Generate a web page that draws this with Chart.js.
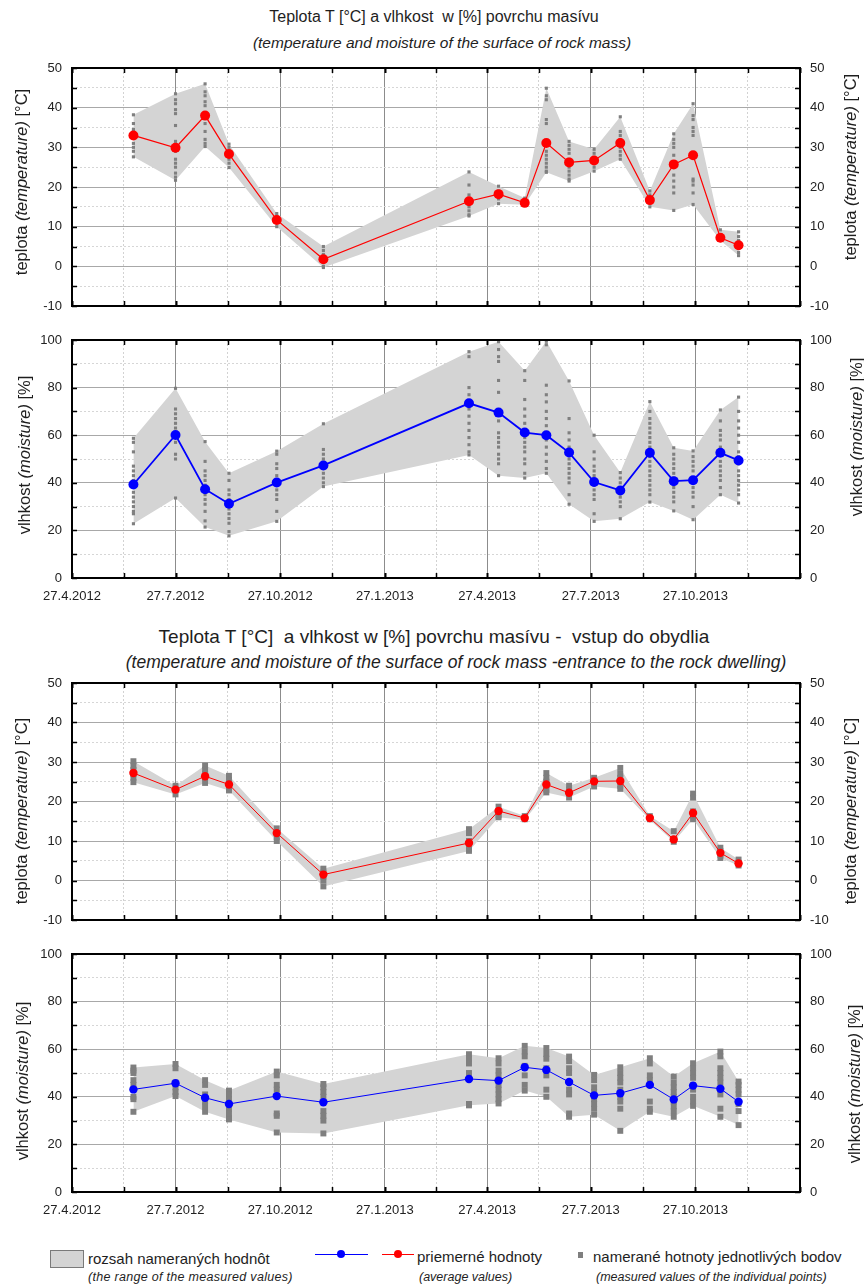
<!DOCTYPE html>
<html>
<head>
<meta charset="utf-8">
<script src="https://cdn.jsdelivr.net/npm/chart.js@4.4.0/dist/chart.umd.min.js"></script>
<style>
body { margin: 0; background: #fff; }
#page { position: relative; width: 864px; height: 1284px; font-family: 'Liberation Sans', Arial, sans-serif; color: #1e1e1e; overflow: hidden; }
#page canvas { position: absolute; left: 0; }
.t { position: absolute; white-space: nowrap; transform: translate(-50%, -50%); }
.yt { position: absolute; white-space: nowrap; font-size: 16.5px; transform: translate(-50%, -50%) rotate(-90deg); }
.lg { position: absolute; white-space: nowrap; transform: translateY(-50%); }
.sw { position: absolute; }
</style>
</head>
<body>
<div id="page">
  <div class="t" style="left:434px; top:17px; font-size:16px;">Teplota T [°C] a vlhkost&nbsp; w [%] povrchu masívu</div>
  <div class="t" style="left:442px; top:43px; font-size:15.5px; font-style:italic;">(temperature and moisture of the surface of rock mass)</div>
  <canvas id="tempA" width="864" height="274" style="top:50px"></canvas>
  <canvas id="moistA" width="864" height="286" style="top:322px"></canvas>

  <div class="t" style="left:434px; top:637px; font-size:19px;">Teplota T [°C]&nbsp; a vlhkost w [%] povrchu masívu -&nbsp; vstup do obydlia</div>
  <div class="t" style="left:456px; top:662px; font-size:17.5px; font-style:italic;">(temperature and moisture of the surface of rock mass -entrance to the rock dwelling)</div>
  <canvas id="tempB" width="864" height="273" style="top:665px"></canvas>
  <canvas id="moistB" width="864" height="286" style="top:936px"></canvas>

  <div class="yt" style="left:21px; top:182px;">teplota <i>(temperature)</i> [°C]</div>
  <div class="yt" style="left:850px; top:167px;">teplota <i>(temperature)</i> [°C]</div>
  <div class="yt" style="left:24px; top:455px;">vlhkost <i>(moisture)</i> [%]</div>
  <div class="yt" style="left:856px; top:437px;">vlhkost <i>(moisture)</i> [%]</div>
  <div class="yt" style="left:21px; top:811px;">teplota <i>(temperature)</i> [°C]</div>
  <div class="yt" style="left:850px; top:811px;">teplota <i>(temperature)</i> [°C]</div>
  <div class="yt" style="left:22px; top:1081px;">vlhkost <i>(moisture)</i> [%]</div>
  <div class="yt" style="left:854px; top:1084px;">vlhkost <i>(moisture)</i> [%]</div>

  <div class="sw" style="left:50px; top:1250px; width:32px; height:16px; background:#d4d4d4; border:1px solid #7a7a7a;"></div>
  <div class="lg" style="left:88px; top:1258px; font-size:15px;">rozsah nameraných hodnôt</div>
  <div class="lg" style="left:88px; top:1277px; font-size:12.5px; font-style:italic; letter-spacing:0.3px;">(the range of the measured values)</div>

  <div class="sw" style="left:315px; top:1254px; width:53px; height:1px; background:#0000ff;"></div>
  <div class="sw" style="left:337px; top:1250px; width:8px; height:8px; border-radius:50%; background:#0000ff;"></div>
  <div class="sw" style="left:382px; top:1254px; width:32px; height:1px; background:#ff0000;"></div>
  <div class="sw" style="left:394px; top:1250px; width:8px; height:8px; border-radius:50%; background:#ff0000;"></div>
  <div class="lg" style="left:417px; top:1256px; font-size:15px;">priemerné hodnoty</div>
  <div class="lg" style="left:419px; top:1277px; font-size:12.5px; font-style:italic;">(average values)</div>

  <div class="sw" style="left:578px; top:1252px; width:5px; height:6px; background:#7f7f7f;"></div>
  <div class="lg" style="left:593px; top:1256px; font-size:15px;">namerané hotnoty jednotlivých bodov</div>
  <div class="lg" style="left:596px; top:1277px; font-size:12.5px; font-style:italic;">(measured values of the individual points)</div>
</div>

<script>
const sampleDates = ['20.6.2012', '27.7.2012', '22.8.2012', '12.9.2012', '24.10.2012', '4.12.2012',
    '11.4.2013', '7.5.2013', '30.5.2013', '18.6.2013', '8.7.2013', '30.7.2013',
    '22.8.2013', '17.9.2013', '8.10.2013', '25.10.2013', '18.11.2013', '4.12.2013'];
const quarterDates = ['27.4.2012', '27.7.2012', '27.10.2012', '27.1.2013', '27.4.2013', '27.7.2013', '27.10.2013', '27.1.2014'];

// povrch masivu
const tempAvgA = [33, 29.9, 38, 28.3, 11.7, 1.8, 16.4, 18.2, 16, 31.1, 26.2, 26.7, 31.1, 16.7, 25.7, 28, 7.2, 5.3];
const tempMaxA = [38.2, 43.5, 46, 30.8, 13.3, 5, 23.8, 20.2, 17.2, 44.9, 31.5, 29.5, 37.7, 19, 33.4, 41, 9.2, 8.7];
const tempMinA = [27.6, 21.7, 30.2, 24.9, 10, -0.3, 12.7, 15.8, 15.5, 23.7, 21.5, 24, 27, 15, 14.1, 15.6, 6.5, 2.7];
const tempPtsA = [
    [38.2, 36, 34.5, 33, 31, 30, 29, 27.6],
    [43.5, 42, 41, 39.5, 38.5, 35.5, 31.5, 29, 27, 26, 25, 23.5, 22.5, 21.7],
    [46, 44, 43, 41.5, 40.5, 38, 36, 34, 32, 31, 30.2],
    [30.8, 30, 29, 28, 27, 26, 24.9],
    [13.3, 12.5, 12, 11, 10],
    [5, 4, 3, 2, 1, 0, -0.3],
    [23.8, 20.5, 18, 17, 15, 14, 13, 12.7],
    [20.2, 19, 18, 17, 15.8],
    [17.2, 16.5, 16, 15.5],
    [44.9, 43, 42, 37, 36, 31, 29, 28, 27, 26, 25, 24, 23.7],
    [31.5, 30.5, 29.5, 28.5, 27, 26, 25, 24, 23, 22, 21.5],
    [29.5, 28.5, 27.5, 26, 25, 24],
    [37.7, 34, 33, 32, 31, 30, 29, 28, 27],
    [19, 18, 17, 16, 15],
    [33.4, 32, 31, 30, 28, 26, 25, 23, 21.5, 20, 18.5, 14.1],
    [41, 38, 37, 35, 34, 33, 22, 21.5, 20.5, 18.5, 15.6],
    [9.2, 8, 7, 6.5],
    [8.7, 7.5, 6.5, 5.5, 4.5, 3.5, 2.7]
];
const moistAvgA = [39.3, 60.1, 37.3, 31.2, 40.1, 47.3, 73.4, 69.5, 61.1, 60, 52.7, 40.3, 36.8, 52.6, 40.7, 41.1, 52.6, 49.4];
const moistMaxA = [58.7, 79.7, 57.3, 44, 53.3, 64.8, 95.1, 99.3, 87.1, 99.5, 82.8, 60, 44.3, 74.1, 54.7, 53.4, 70.6, 76];
const moistMinA = [22.8, 33.6, 21.4, 17.7, 23.8, 38.4, 51.7, 43, 42, 44, 31, 23.8, 24.9, 31.9, 28.2, 24.5, 35, 31.5];
const moistPtsA = [
    [58.7, 57, 53, 47, 45, 43, 41, 39, 36, 34, 32, 30, 28, 27, 22.8],
    [79.7, 71, 69, 67, 65, 63, 61, 59, 57, 52, 50, 33.6],
    [57.3, 49, 45, 43, 41, 39, 37, 35, 33, 31, 28, 24, 21.4],
    [44, 41, 37, 35, 33, 31, 29, 27, 25, 23, 19.5, 17.7],
    [53.3, 52, 48, 46, 43, 41, 39, 37, 35, 33, 28, 23.8],
    [64.8, 54, 52, 50, 48, 46, 44, 42, 40, 38.4],
    [95.1, 93, 80, 77, 74, 71, 68, 65, 62, 59, 56, 53, 51.7],
    [99.3, 96, 93, 91, 83, 78, 70, 66, 61, 59, 57, 55, 52, 50, 48, 43],
    [87.1, 83, 75, 71, 68, 65, 62, 59, 57, 55, 53, 50, 48, 44, 42],
    [99.5, 98, 81, 77, 74, 70, 67, 64, 61, 58, 55, 52, 49, 46, 44],
    [82.8, 67, 61, 58, 55, 52, 50, 48, 46, 44, 42, 40, 35, 31],
    [60, 53, 50, 47, 45, 43, 41, 39, 37, 35, 33, 27, 23.8],
    [44.3, 42, 40, 38, 36, 34, 32, 30, 24.9],
    [74.1, 70, 67, 65, 63, 61, 59, 57, 55, 53, 51, 49, 47, 45, 43, 41, 39, 37, 35, 31.9],
    [54.7, 52, 50, 48, 46, 44, 42, 40, 38, 36, 34, 32, 28.2],
    [53.4, 51, 49, 47, 45, 42, 40, 38, 36, 34, 30, 24.5],
    [70.6, 66, 62, 60, 58, 55, 52, 49, 47, 45, 43, 41, 38, 35],
    [76, 70, 66, 63, 60, 57, 53, 51, 48, 45, 43, 41, 39, 37, 35, 31.5]
];

// vstup do obydlia
const tempAvgB = [27.2, 23, 26.4, 24.3, 12, 1.5, 9.5, 17.6, 15.8, 24.3, 22.2, 25.1, 25.2, 15.8, 10.4, 17.1, 7, 4.3];
const tempMaxB = [30.2, 24, 29.1, 26.5, 13.2, 3, 13, 18.7, 16.3, 27.2, 24, 26, 28.5, 16.3, 12.5, 22, 8.3, 5.3];
const tempMinB = [24.9, 21.8, 24.7, 22.8, 10, -1.5, 7.5, 16, 15.3, 22.3, 21, 23.8, 23.2, 15.3, 9.8, 15.5, 5.7, 3.8];
const tempPtsB = [
    [30.2, 29, 28, 27, 26, 24.9],
    [24, 23, 21.8],
    [29.1, 28, 27, 26, 24.7],
    [26.5, 25.5, 24.5, 23.5, 22.8],
    [13.2, 12, 11, 10],
    [3, 2, 1, 0, -1.5],
    [13, 12, 10, 9, 8, 7.5],
    [18.7, 17.5, 16.5, 16],
    [16.3, 15.5],
    [27.2, 26, 25, 24, 23, 22.3],
    [24, 23, 22, 21],
    [26, 25.5, 25, 23.8],
    [28.5, 27, 26, 25, 24, 23.2],
    [16.3, 15.5],
    [12.5, 10.5, 9.8],
    [22, 21, 17.5, 16.5, 15.5],
    [8.3, 7.5, 6.5, 5.7],
    [5.3, 4.5, 3.8]
];
const moistAvgB = [43.1, 45.7, 39.6, 37, 40.3, 37.7, 47.5, 46.8, 52.4, 51.3, 46.2, 40.6, 41.5, 45, 38.9, 44.7, 43.4, 37.9];
const moistMaxB = [52.3, 53.8, 47, 42.6, 50.6, 45.4, 57.9, 56.2, 61.4, 60.5, 56.9, 49.2, 52.4, 56.2, 48.5, 54.1, 59, 46.4];
const moistMinB = [33.7, 40.3, 33.7, 30.5, 25, 24.6, 36.4, 37.2, 42.6, 40, 31.6, 32.5, 25.7, 33.7, 31.6, 36.2, 31.6, 28.1];
const moistPtsB = [
    [52.3, 51, 50, 47, 45, 40, 39, 33.7],
    [53.8, 52, 46, 44, 42, 40.3],
    [47, 45, 41, 38, 36, 33.7],
    [42.6, 41, 39, 37, 35, 33, 31, 30.5],
    [50.6, 49, 45, 43, 33, 32, 25],
    [45.4, 44, 42, 40, 34, 32, 30, 24.6],
    [57.9, 56, 54, 50, 48, 37, 36.4],
    [56.2, 54, 51, 49, 47, 45, 43, 41, 39, 37.2],
    [61.4, 59, 57, 53, 49, 45, 42.6],
    [60.5, 58, 56, 52, 49, 43, 40],
    [56.9, 55, 52, 50, 43, 41, 33, 31.6],
    [49.2, 47, 44, 42, 39, 37, 35, 32.5],
    [52.4, 50, 48, 46, 43, 40, 38, 35, 25.7],
    [56.2, 54, 49, 47, 45, 38, 35, 33.7],
    [48.5, 46, 44, 42, 40, 38, 36, 34, 31.6],
    [54.1, 52, 50, 48, 45, 43, 40, 38, 36.2],
    [59, 57, 52, 50, 48, 46, 43, 41, 35, 31.6],
    [46.4, 45, 43, 41, 37, 34, 28.1]
];

function dayOf(s) {
    const p = s.split('.').map(Number);
    return (Date.UTC(p[2], p[1] - 1, p[0]) - Date.UTC(2012, 3, 27)) / 864e5;
}

const sampleDays = sampleDates.map(dayOf);
const quarterDays = quarterDates.map(dayOf);
const xTicks = [];
const xTickLabels = [];
quarterDays.forEach((d, i) => {
    xTicks.push(d);
    xTickLabels.push(i < quarterDays.length - 1 ? quarterDates[i] : '');
    if (i < quarterDays.length - 1) {
        xTicks.push((d + quarterDays[i + 1]) / 2);
        xTickLabels.push('');
    }
});

Chart.defaults.font.family = "'Liberation Sans', Arial, sans-serif";
Chart.defaults.font.size = 13;
Chart.defaults.font.lineHeight = '16px';
Chart.defaults.color = '#222';
Chart.defaults.animation = false;

const toXY = arr => arr.map((v, i) => ({ x: sampleDays[i], y: v }));
const toPts = arr => arr.flatMap((vals, i) => vals.map(v => ({ x: sampleDays[i], y: v })));

// ramik a vnutorne ciarky ako v gnuplote
const framePlugin = {
    id: 'frame',
    afterDraw(chart) {
        const { ctx, chartArea: a, scales } = chart;
        ctx.save();
        ctx.strokeStyle = '#000';
        scales.x.ticks.forEach((t, i) => {
            const px = Math.round(scales.x.getPixelForValue(t.value)) + 0.5;
            ctx.lineWidth = i % 2 ? 1.5 : 2;
            ctx.beginPath();
            ctx.moveTo(px, a.top); ctx.lineTo(px, a.top + 5);
            ctx.moveTo(px, a.bottom); ctx.lineTo(px, a.bottom - 5);
            ctx.stroke();
        });
        scales.y.ticks.forEach(t => {
            const py = Math.round(scales.y.getPixelForValue(t.value)) + 0.5;
            ctx.lineWidth = 1.5;
            ctx.beginPath();
            ctx.moveTo(a.left, py); ctx.lineTo(a.left + 5, py);
            ctx.moveTo(a.right, py); ctx.lineTo(a.right - 5, py);
            ctx.stroke();
        });
        ctx.lineWidth = 2;
        ctx.strokeRect(a.left, a.top, a.right - a.left, a.bottom - a.top);
        ctx.restore();
    }
};

function makeChart(id, o) {
    const yTicks = {
        stepSize: o.minor, autoSkip: false, padding: 10,
        callback: v => (v % o.major === 0 ? v : '')
    };
    return new Chart(document.getElementById(id), {
        type: 'line',
        data: {
            datasets: [
                {
                    data: toXY(o.avg), borderColor: o.color, backgroundColor: o.color,
                    borderWidth: o.lineWidth, pointRadius: o.dot, pointBorderWidth: 0, fill: false
                },
                {
                    data: toPts(o.points), showLine: false, pointStyle: 'rect',
                    pointRadius: o.rect, backgroundColor: '#7f7f7f', pointBorderWidth: 0
                },
                {
                    data: toXY(o.max), borderWidth: 0, borderColor: 'transparent', pointRadius: 0,
                    fill: '+1', backgroundColor: '#d4d4d4'
                },
                {
                    data: toXY(o.min), borderWidth: 0, borderColor: 'transparent', pointRadius: 0, fill: false
                }
            ]
        },
        options: {
            responsive: false,
            events: [],
            layout: { padding: 0 },
            plugins: { legend: { display: false }, tooltip: { enabled: false } },
            scales: {
                x: {
                    type: 'linear', min: 0, max: quarterDays[quarterDays.length - 1],
                    afterBuildTicks: s => { s.ticks = xTicks.map(v => ({ value: v })); },
                    afterFit: s => { s.height = o.xLabels ? 30 : 10; },
                    ticks: {
                        display: o.xLabels, autoSkip: false, maxRotation: 0, padding: 10,
                        callback: (v, i) => xTickLabels[i]
                    },
                    grid: { drawTicks: false, color: c => (c.index % 2 ? '#d2d2d2' : '#8c8c8c') },
                    border: { display: false, dash: c => (c.index % 2 ? [2, 2] : []) }
                },
                y: {
                    position: 'left', min: o.yMin, max: o.yMax,
                    afterFit: s => { s.width = 72; },
                    ticks: yTicks,
                    grid: {
                        drawTicks: false,
                        color: c => (c.tick && c.tick.value % o.major === 0 ? '#a8a8a8' : '#d6d6d6')
                    },
                    border: {
                        display: false,
                        dash: c => (c.tick && c.tick.value % o.major !== 0 ? [2, 2] : [])
                    }
                },
                y2: {
                    position: 'right', min: o.yMin, max: o.yMax,
                    afterFit: s => { s.width = 64; },
                    ticks: yTicks,
                    grid: { display: false, drawTicks: false },
                    border: { display: false }
                }
            }
        },
        plugins: [framePlugin]
    });
}

makeChart('tempA', {
    avg: tempAvgA, max: tempMaxA, min: tempMinA, points: tempPtsA,
    color: '#ff0000', lineWidth: 1.2, dot: 5, rect: 2.2,
    yMin: -10, yMax: 50, minor: 5, major: 10, xLabels: false
});
makeChart('moistA', {
    avg: moistAvgA, max: moistMaxA, min: moistMinA, points: moistPtsA,
    color: '#0000ff', lineWidth: 1.8, dot: 5, rect: 2.2,
    yMin: 0, yMax: 100, minor: 10, major: 20, xLabels: true
});
makeChart('tempB', {
    avg: tempAvgB, max: tempMaxB, min: tempMinB, points: tempPtsB,
    color: '#ff0000', lineWidth: 1, dot: 4.2, rect: 4.2,
    yMin: -10, yMax: 50, minor: 5, major: 10, xLabels: false
});
makeChart('moistB', {
    avg: moistAvgB, max: moistMaxB, min: moistMinB, points: moistPtsB,
    color: '#0000ff', lineWidth: 1, dot: 4.2, rect: 4.2,
    yMin: 0, yMax: 100, minor: 10, major: 20, xLabels: true
});
</script>
</body>
</html>
